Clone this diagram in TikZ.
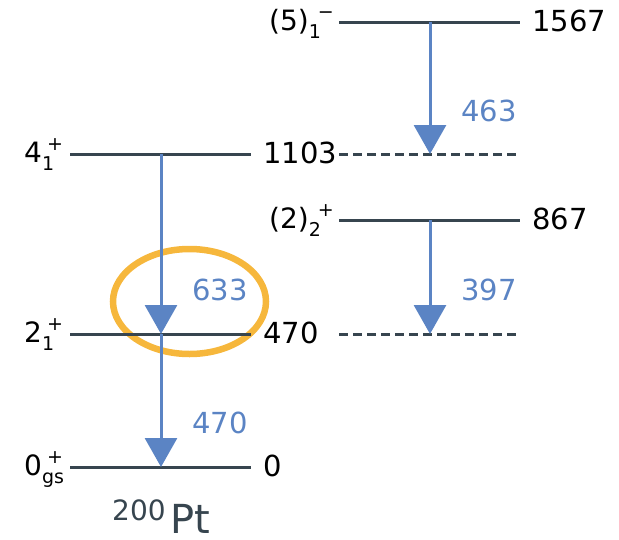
\documentclass[tikz,border=0pt]{standalone}
\usepackage{fontspec}
\setmainfont{DejaVu Sans}
\usetikzlibrary{arrows.meta}
\definecolor{lvlcol}{HTML}{37454F}
\definecolor{gamcol}{HTML}{5B84C4}
\definecolor{hlcol}{HTML}{F6B73C}
% spin label: value with stacked superscript (parity) and subscript (index);
% the optional argument shifts the superscript to the right
\newcommand{\spinlab}[4][5pt]{{\fontsize{28}{28}\selectfont #2}\hbox{\ooalign{\hspace{#1}\raisebox{11.5pt}{\fontsize{19}{19}\selectfont #3}\cr\raisebox{-8pt}{\fontsize{19}{19}\selectfont #4}\cr}}}
\tikzset{
  level/.style={draw=lvlcol, line width=3pt},
  dlevel/.style={draw=lvlcol, line width=3pt, dash pattern=on 9pt off 5pt},
  gamma/.style={draw=gamcol, line width=3pt, -{Triangle[width=32pt,length=29pt]}},
  lab/.style={inner sep=0pt, font=\fontsize{29}{29}\selectfont},
  elab/.style={lab, anchor=base west},
  glab/.style={lab, anchor=base west, text=gamcol},
}
\begin{document}
\begin{tikzpicture}[x=1pt, y=-1pt]
\useasboundingbox (0,0) rectangle (619,539);

% level end points
\coordinate (L4a) at (70,154);  \coordinate (L4b) at (251,154);
\coordinate (L2a) at (70,334);  \coordinate (L2b) at (251,334);
\coordinate (L0a) at (70,467);  \coordinate (L0b) at (251,467);
\coordinate (R5a) at (339,22);  \coordinate (R5b) at (520,22);
\coordinate (R4a) at (339,154); \coordinate (R4b) at (520,154);
\coordinate (R2a) at (339,220); \coordinate (R2b) at (520,220);
\coordinate (R0a) at (339,334); \coordinate (R0b) at (520,334);

% highlight around the 633 keV transition
\draw[hlcol, line width=6.5pt] (189.5,301.5) ellipse [x radius=76.5, y radius=52.5];

% levels
\draw[level] (L4a) -- (L4b);
\draw[level] (L2a) -- (L2b);
\draw[level] (L0a) -- (L0b);
\draw[level] (R5a) -- (R5b);
\draw[dlevel] (R4a) -- (R4b);
\draw[level] (R2a) -- (R2b);
\draw[dlevel] (R0a) -- (R0b);

% transition anchors on the levels
\coordinate (g4) at (161,154);
\coordinate (g2) at (161,334);
\coordinate (g0) at (161,467);
\coordinate (h5) at (430,22);
\coordinate (h4) at (430,154);
\coordinate (h2) at (430,220);
\coordinate (h0) at (430,334);

% gamma transitions
\draw[gamma] (g4) -- (g2);
\draw[gamma] (g2) -- (g0);
\draw[gamma] (h5) -- (h4);
\draw[gamma] (h2) -- (h0);

% spins and parities
\node[elab] (s4) at (24,162) {\spinlab{4}{+}{1}};
\node[elab] (s2) at (24,342) {\spinlab{2}{+}{1}};
\node[elab] (s0) at (24,475) {\spinlab{0}{+}{gs}};
\node[elab] (s5) at (269,30) {\spinlab[9pt]{(5)}{\char"2212}{1}};
\node[elab] (s22) at (269,228) {\spinlab[9pt]{(2)}{+}{2}};

% level energies
\node[elab] (e1103) at (263,163) {1103};
\node[elab] (e470) at (263,343) {470};
\node[elab] (e0) at (263,476) {0};
\node[elab] (e1567) at (532,31) {1567};
\node[elab] (e867) at (532,229) {867};

% transition energies
\node[glab] (t633) at (192,300) {633};
\node[glab] (t470) at (192,433) {470};
\node[glab] (t463) at (461,121) {463};
\node[glab] (t397) at (461,300) {397};

% nucleus
\node[inner sep=0pt, anchor=base west, text=lvlcol, text depth=0pt] (nuc) at (112,533)
  {\raisebox{13pt}{\fontsize{28}{28}\selectfont 200}\hspace{5pt}\fontsize{40}{40}\selectfont Pt};
\end{tikzpicture}
\end{document}
